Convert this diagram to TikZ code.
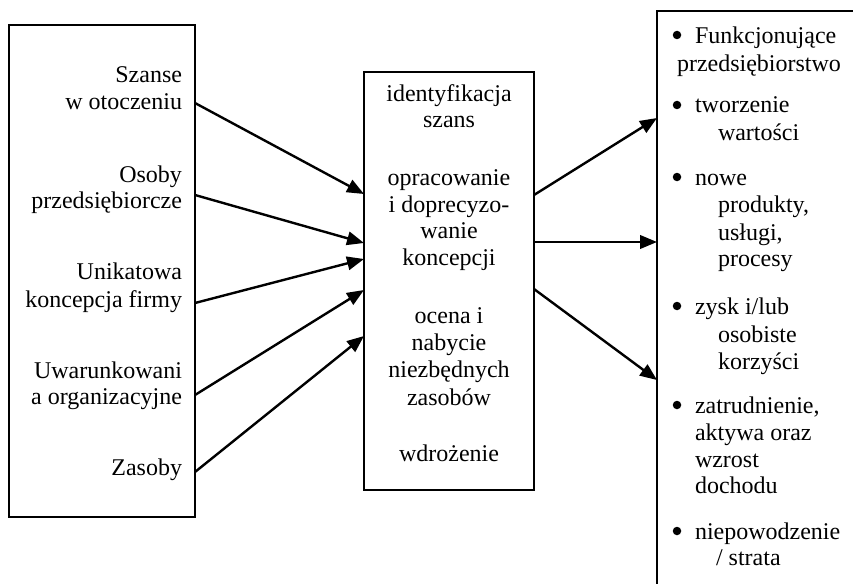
\documentclass[tikz,border=0pt]{standalone}
\usepackage{fontspec}
\setmainfont{Liberation Serif}
\usetikzlibrary{arrows.meta}

\tikzset{
  box/.style={draw, line width=2pt, inner sep=0pt, outer sep=0pt, anchor=north west},
  txt/.style={inner sep=0pt, outer sep=0pt, font=\fontsize{24}{27}\selectfont},
  lt/.style={txt, anchor=base east},
  mt/.style={txt, anchor=base},
  rt/.style={txt, anchor=base west},
  bul/.style={circle, fill, inner sep=0pt, outer sep=0pt, minimum size=8.5pt},
  arr/.style={line width=2.4pt, -{Triangle[length=17pt, width=13.5pt]}}
}

\begin{document}
\begin{tikzpicture}[x=1pt, y=-1pt]
\useasboundingbox (0,0) rectangle (853,583);
\clip (0,0) rectangle (853,583);

% three frames: sources, process, outcomes (the last runs past the page edge)
\node[box, minimum width=186pt, minimum height=492pt] (L) at (9,25) {};
\node[box, minimum width=170pt, minimum height=418pt] (M) at (364,72) {};
\node[box, minimum width=230pt, minimum height=620pt] (R) at (657,11) {};

% left column
\node[lt] (l1a) at (182,83)  {Szanse};
\node[lt] (l1b) at (182,110) {w otoczeniu};
\node[lt] (l2a) at (182,182) {Osoby};
\node[lt] (l2b) at (182,208) {przedsiębiorcze};
\node[lt] (l3a) at (182,279) {Unikatowa};
\node[lt] (l3b) at (182,307) {koncepcja firmy};
\node[lt] (l4a) at (182,378) {Uwarunkowani};
\node[lt] (l4b) at (182,404) {a organizacyjne};
\node[lt] (l5a) at (182,475) {Zasoby};

% middle column
\node[mt] (m1)  at (449,102) {identyfikacja};
\node[mt] (m2)  at (449,128) {szans};
\node[mt] (m3)  at (449,185) {opracowanie};
\node[mt] (m4)  at (449,212) {i doprecyzo-};
\node[mt] (m5)  at (449,238) {wanie};
\node[mt] (m6)  at (449,265) {koncepcji};
\node[mt] (m7)  at (449,323) {ocena i};
\node[mt] (m8)  at (449,350) {nabycie};
\node[mt] (m9)  at (449,377) {niezbędnych};
\node[mt] (m10) at (449,405) {zasobów};
\node[mt] (m11) at (449,461) {wdrożenie};

% right column
\node[bul] (b1) at (677,35) {};
\node[rt] (r1)  at (695,44)  {Funkcjonujące};
\node[rt] (r2)  at (677,72)  {przedsiębiorstwo};
\node[bul] (b2) at (677,105) {};
\node[rt] (r3)  at (695,113) {tworzenie};
\node[rt] (r4)  at (718,140) {wartości};
\node[bul] (b3) at (677,177) {};
\node[rt] (r5)  at (695,185) {nowe};
\node[rt] (r6)  at (718,212) {produkty,};
\node[rt] (r7)  at (718,240) {usługi,};
\node[rt] (r8)  at (718,266) {procesy};
\node[bul] (b4) at (677,306) {};
\node[rt] (r9)  at (695,314) {zysk i/lub};
\node[rt] (r10) at (718,342) {osobiste};
\node[rt] (r11) at (718,369) {korzyści};
\node[bul] (b5) at (677,405) {};
\node[rt] (r12) at (695,413) {zatrudnienie,};
\node[rt] (r13) at (695,440) {aktywa oraz};
\node[rt] (r14) at (695,467) {wzrost};
\node[rt] (r15) at (695,493) {dochodu};
\node[bul] (b6) at (677,531) {};
\node[rt] (r16) at (695,539) {niepowodzenie};
\node[rt] (r17) at (716,565) {/ strata};

% inputs into the process
\draw[arr] (L.east |- 0,103) -- (M.west |- 0,194);
\draw[arr] (L.east |- 0,195) -- (M.west |- 0,243);
\draw[arr] (L.east |- 0,303) -- (M.west |- 0,259);
\draw[arr] (L.east |- 0,395) -- (M.west |- 0,290);
\draw[arr] (L.east |- 0,472) -- (M.west |- 0,336);

% outcomes of the process
\draw[arr] (M.east |- 0,195) -- (R.west |- 0,118);
\draw[arr] (M.east |- 0,242) -- (R.west |- 0,242);
\draw[arr] (M.east |- 0,289) -- (R.west |- 0,380);
\end{tikzpicture}
\end{document}
